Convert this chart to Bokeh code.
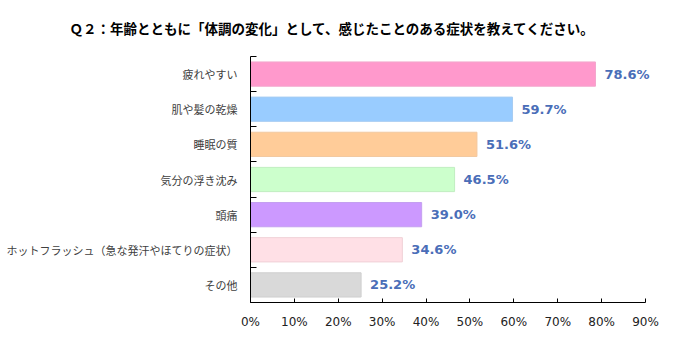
from bokeh.plotting import figure
from bokeh.models import ColumnDataSource, FixedTicker, Range1d, Title, LabelSet
from bokeh.core.properties import value
from bokeh.embed import file_html
from bokeh.resources import INLINE

categories = ["疲れやすい", "肌や髪の乾燥", "睡眠の質", "気分の浮き沈み", "頭痛",
              "ホットフラッシュ（急な発汗やほてりの症状）", "その他"]
values = [78.6, 59.7, 51.6, 46.5, 39.0, 34.6, 25.2]
colors = ["#FF99CC", "#99CCFF", "#FFCC99", "#CCFFCC", "#CC99FF", "#FFE0E6", "#D9D9D9"]
edges = ["#F2A6CC", "#A6CCF2", "#F2C8A0", "#C0EEC0", "#C4A0F0", "#F0D0D6", "#CFCFCF"]
x_ticks = [0, 10, 20, 30, 40, 50, 60, 70, 80, 90]
title_text = "Ｑ２：年齢とともに「体調の変化」として、感じたことのある症状を教えてください。"

n = len(categories)
ypos = [n - i - 0.5 for i in range(n)]
labels = [f"{v:.1f}%" for v in values]

# axis ends at 90% (x=645px); frame extended to 672px so value labels are not clipped
axis_left_px, axis_right_px, frame_right_px = 250, 645, 672
x_end = 90 * (frame_right_px - axis_left_px) / (axis_right_px - axis_left_px)

src = ColumnDataSource(dict(y=ypos, v=values, c=colors, e=edges, lab=labels))

p = figure(width=677, height=343, output_backend="svg", toolbar_location=None,
           x_range=Range1d(0, x_end), y_range=Range1d(0, n),
           min_border_left=axis_left_px, min_border_right=677 - frame_right_px,
           min_border_top=0, min_border_bottom=41)
p.title = None
t = Title(text=title_text, text_font="Noto Sans CJK JP", text_font_size="13.5px",
          text_font_style="bold", text_color="#000000", align="left", offset=-181,
          standoff=34, vertical_align="top")
p.add_layout(t, "above")

p.hbar(y="y", left=0, right="v", height=0.69, fill_color="c", line_color="e", line_width=1, source=src)
labs = LabelSet(x="v", y="y", text="lab", x_offset=9, text_baseline="middle", text_align="left",
                text_font=value("DejaVu Sans"), text_font_size=value("13px"),
                text_font_style=value("bold"), text_color=value("#4A6EB8"), source=src)
p.add_layout(labs)

p.grid.visible = False
p.outline_line_color = None
p.background_fill_color = "white"
p.border_fill_color = "white"

xa = p.xaxis[0]
xa.bounds = (0, 90)
xa.ticker = FixedTicker(ticks=x_ticks)
xa.major_label_overrides = {t_: f"{t_}%" for t_ in x_ticks}
xa.major_tick_in = 4
xa.major_tick_out = 0
xa.minor_tick_line_color = None
xa.axis_line_color = "black"
xa.major_tick_line_color = "black"
xa.major_label_text_font = "DejaVu Sans"
xa.major_label_text_font_size = "12px"
xa.major_label_text_color = "#222222"
xa.major_label_standoff = 12

ya = p.yaxis[0]
ya.ticker = FixedTicker(ticks=ypos, minor_ticks=list(range(n + 1)))
ya.major_label_overrides = {y: c for y, c in zip(ypos, categories)}
ya.major_tick_in = 0
ya.major_tick_out = 0
ya.minor_tick_in = 6
ya.minor_tick_out = 0
ya.minor_tick_line_color = "black"
ya.axis_line_color = "black"
ya.major_label_text_font = "Noto Sans CJK JP"
ya.major_label_text_font_size = "11px"
ya.major_label_text_color = "#404040"
ya.major_label_standoff = 13

open("out.html", "w").write(file_html(p, INLINE))
